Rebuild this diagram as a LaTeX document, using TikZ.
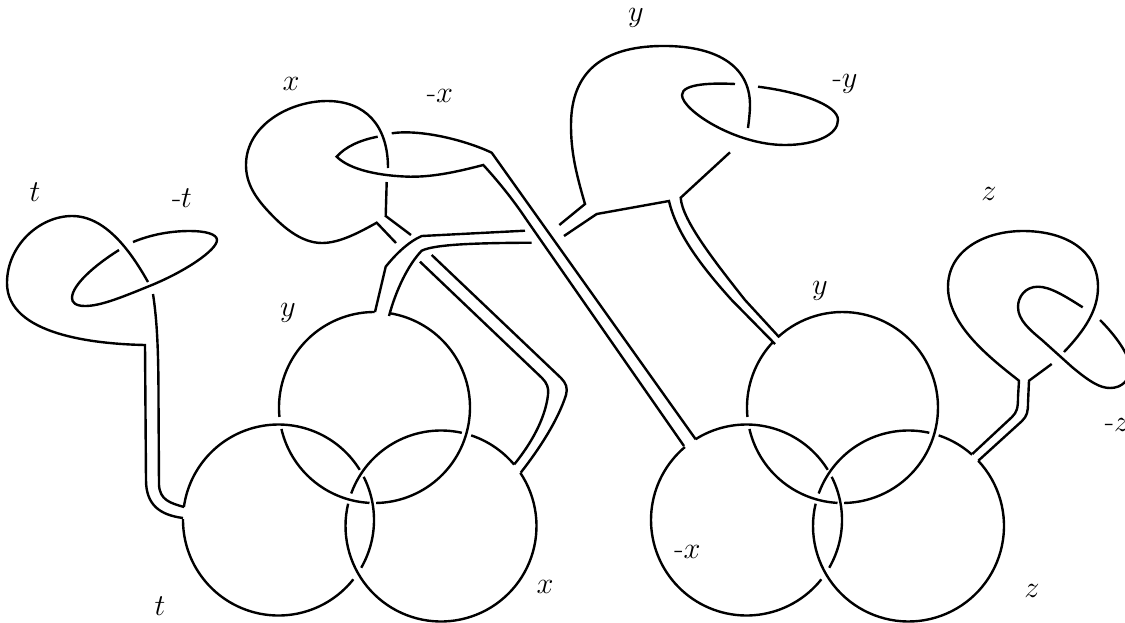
\documentclass[tikz,border=0pt]{standalone}
\tikzset{
  strand/.style={line width=2.4pt,line join=miter,black},
  lab/.style={inner sep=0pt,font=\fontsize{24.88}{30}\selectfont,scale=1.22,transform shape}
}
\newcommand\ringarc[4]{\draw[strand] plot[domain=#3:#4,samples=70] ({#1+95.5*cos(\x)},{#2+95.5*sin(\x)});}
\begin{document}
\begin{tikzpicture}[x=1pt,y=-1pt]
\useasboundingbox (0,0) rectangle (1125,622);
% left Borromean rings
\ringarc{374.5}{407.5}{279}{449}
\ringarc{374.5}{407.5}{93}{167}
\ringarc{374.5}{407.5}{174.3}{270}
\ringarc{278.5}{520}{333.1}{390}
\ringarc{278.5}{520}{38.4}{180.6}
\ringarc{278.5}{520}{187.8}{328.3}
\ringarc{441}{526}{326.2}{553.5}
\ringarc{441}{526}{199.9}{282.6}
\ringarc{441}{526}{288.4}{320}
% right Borromean rings
\ringarc{842.5}{407.5}{228}{449}
\ringarc{842.5}{407.5}{93}{167}
\ringarc{842.5}{407.5}{174.3}{223.1}
\ringarc{746.5}{520}{333.1}{390}
\ringarc{746.5}{520}{38.4}{229.8}
\ringarc{746.5}{520}{237.8}{328.3}
\ringarc{908.5}{526}{316.9}{553.5}
\ringarc{908.5}{526}{199.9}{282.6}
\ringarc{908.5}{526}{288.4}{311.7}
% t band and loop
\draw[strand] (183,518) .. controls (160,515) and (146,505) .. (146,480) -- (145,345)
  .. controls (95,344) and (7,335) .. (7,283)
  .. controls (7,245) and (40,216) .. (72,216)
  .. controls (105,216) and (130,250) .. (148,282);
\draw[strand] (184,507) .. controls (170,503) and (160,500) .. (159,485) -- (158.5,400)
  .. controls (158.5,350) and (157,320) .. (153,294);
\draw[strand] (133,242) .. controls (155,233) and (175,231) .. (190,231)
  .. controls (205,231) and (217,234) .. (217,240)
  .. controls (217,250) and (185,272) .. (147,287)
  .. controls (120,298) and (100,306) .. (85,306)
  .. controls (75,306) and (72,302) .. (72,298)
  .. controls (72,285) and (95,265) .. (119,250);
% x loop and band
\draw[strand] (396,243) -- (376.7,222.7)
  .. controls (360,232) and (340,243) .. (322,243)
  .. controls (300,243) and (281,225) .. (268,211)
  .. controls (255,197) and (246,183) .. (246,165)
  .. controls (246,125) and (290,101) .. (327,101)
  .. controls (365,101) and (388,125) .. (388,168);
\draw[strand] (386.7,182) -- (385.7,216) -- (411,235);
\draw[strand] (420,261.7) -- (542,378) .. controls (547,383) and (549,388) .. (548,395)
  .. controls (545,420) and (530,445) .. (514.3,464.3);
\draw[strand] (431.7,255) -- (561,378) .. controls (566,383) and (568,388) .. (566,395)
  .. controls (558,420) and (540,448) .. (520.7,472.7);
% y band to left circle
\draw[strand] (375,312) -- (385.7,266.7) .. controls (395,255) and (408,242) .. (421.7,236) -- (525,230.7);
\draw[strand] (389,316) .. controls (396,290) and (408,265) .. (421.7,250.7)
  .. controls (435,244) and (480,243) .. (531.7,242.7);
% y loop
\draw[strand] (559.3,225) -- (585,204)
  .. controls (575,170) and (571,150) .. (571,125)
  .. controls (571,70) and (605,47) .. (660,46)
  .. controls (715,45) and (750,65) .. (750,105)
  .. controls (750,112) and (749,120) .. (748,128);
\draw[strand] (564,236) -- (596.7,214) -- (669,201)
  .. controls (676,232) and (700,265) .. (731.7,300) -- (775,344);
\draw[strand] (730,152.3) -- (680.7,197.7)
  .. controls (682,220) and (715,262) .. (745,300) -- (779.3,337.3);
\draw[strand] (735,84) .. controls (715,83) and (682,83) .. (682,95)
  .. controls (682,110) and (735,145) .. (785,145)
  .. controls (815,145) and (838,135) .. (838,120)
  .. controls (838,105) and (800,92) .. (758,86.7);
% -x band and ring
\draw[strand] (377.7,136.7) .. controls (360,140) and (345,147) .. (336.7,156.7)
  .. controls (350,170) and (380,176) .. (410,176.7)
  .. controls (435,177) and (460,171) .. (483.3,165)
  .. controls (497,180) and (512,198) .. (526.7,220) -- (684,446);
\draw[strand] (391.7,133.3) .. controls (420,129) and (465,140) .. (491.7,152.7) -- (695.7,439.3);
% z band and loop
\draw[strand] (972.3,454) -- (1012,417) .. controls (1017,412) and (1018,408) .. (1018,397) -- (1019,380.7)
  .. controls (990,358) and (948,325) .. (948,287)
  .. controls (948,250) and (985,231) .. (1023,231)
  .. controls (1065,231) and (1098,250) .. (1098,287)
  .. controls (1098,310) and (1085,330) .. (1064,352);
\draw[strand] (978.3,460.7) -- (1022,421) .. controls (1027,416) and (1028,412) .. (1028,403) -- (1029,380.7) -- (1051.7,364);
\draw[strand] (1082.7,307.3) .. controls (1065,296) and (1050,286.7) .. (1038,286.7)
  .. controls (1025,286.7) and (1018,297) .. (1018,307)
  .. controls (1018,320) and (1030,330) .. (1042,340) -- (1072,367)
  .. controls (1090,382) and (1100,388) .. (1110,388)
  .. controls (1122,388) and (1130,380) .. (1130,368)
  .. controls (1130,355) and (1115,335) .. (1100,320);
% labels
\node[lab] (l1) at (35,192) {$t$};
\node[lab] (l2) at (182,198) {-$t$};
\node[lab] (l3) at (291,84) {$x$};
\node[lab] (l4) at (440,96) {-$x$};
\node[lab] (l5) at (636,18) {$y$};
\node[lab] (l6) at (845,84) {-$y$};
\node[lab] (l7) at (989,194) {$z$};
\node[lab] (l8) at (820,291) {$y$};
\node[lab] (l9) at (288,313) {$y$};
\node[lab] (l10) at (160,606) {$t$};
\node[lab] (l11) at (545,587) {$x$};
\node[lab] (l12) at (687.5,552) {-$x$};
\node[lab] (l13) at (1032,591) {$z$};
\node[lab] (l14) at (1117,425) {-$z$};
\end{tikzpicture}
\end{document}
